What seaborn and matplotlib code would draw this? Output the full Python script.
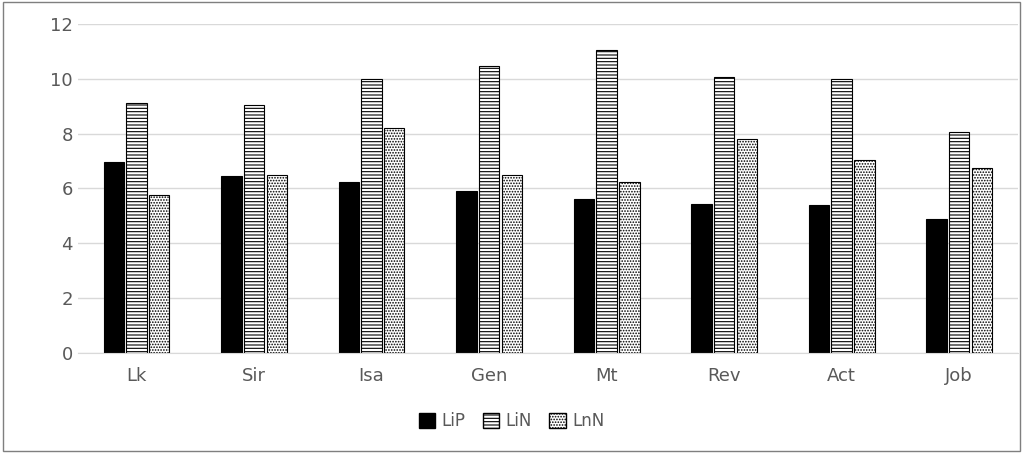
import matplotlib
matplotlib.use("Agg")
import matplotlib.pyplot as plt
import seaborn as sns
import pandas as pd
from matplotlib.patches import Patch, Rectangle

categories = ["Lk", "Sir", "Isa", "Gen", "Mt", "Rev", "Act", "Job"]
series = ["LiP", "LiN", "LnN"]
lip = [6.95, 6.45, 6.25, 5.9, 5.6, 5.45, 5.4, 4.9]
lin = [9.1, 9.05, 10.0, 10.45, 11.05, 10.05, 10.0, 8.05]
lnn = [5.75, 6.5, 8.2, 6.5, 6.25, 7.8, 7.05, 6.75]

df = pd.DataFrame({"cat": categories * 3,
                   "series": ["LiP"] * 8 + ["LiN"] * 8 + ["LnN"] * 8,
                   "val": lip + lin + lnn})

plt.rcParams["hatch.linewidth"] = 0.8
fig = plt.figure(figsize=(10.23, 4.53), dpi=100)
ax = fig.add_axes([0.076, 0.221, 0.919, 0.726])
sns.barplot(data=df, x="cat", y="val", hue="series", order=categories,
            hue_order=series, palette=["black", "white", "white"],
            edgecolor="black", linewidth=0.8, width=0.58, gap=0.1,
            legend=False, ax=ax)
hatches = {"LiP": "", "LiN": "-----", "LnN": "......"}
for cont, s in zip(ax.containers, series):
    for b in cont:
        b.set_hatch(hatches[s])

ax.set_ylim(0, 12)
ax.set_yticks(range(0, 13, 2))
ax.yaxis.grid(True, color="#d9d9d9", linewidth=1)
ax.set_axisbelow(True)
for s in ["top", "right", "left"]:
    ax.spines[s].set_visible(False)
ax.spines["bottom"].set_color("#d9d9d9")
ax.tick_params(length=0, labelsize=13, colors="#595959")
ax.tick_params(axis="x", pad=10)
ax.set_xlabel("")
ax.set_ylabel("")

handles = [Patch(facecolor="black", edgecolor="black", label="LiP"),
           Patch(facecolor="white", edgecolor="black", hatch="-----", label="LiN"),
           Patch(facecolor="white", edgecolor="black", hatch="......", label="LnN")]
fig.legend(handles=handles, loc="center", bbox_to_anchor=(0.5, 0.07), ncol=3,
           frameon=False, fontsize=12, handlelength=1.0, handleheight=1.0,
           columnspacing=1.0, handletextpad=0.4, labelcolor="#595959")
fig.patches.append(Rectangle((0.003, 0.005), 0.994, 0.99, transform=fig.transFigure,
                             fill=False, edgecolor="#7f7f7f", linewidth=1))
fig.savefig("out.png", dpi=100)
